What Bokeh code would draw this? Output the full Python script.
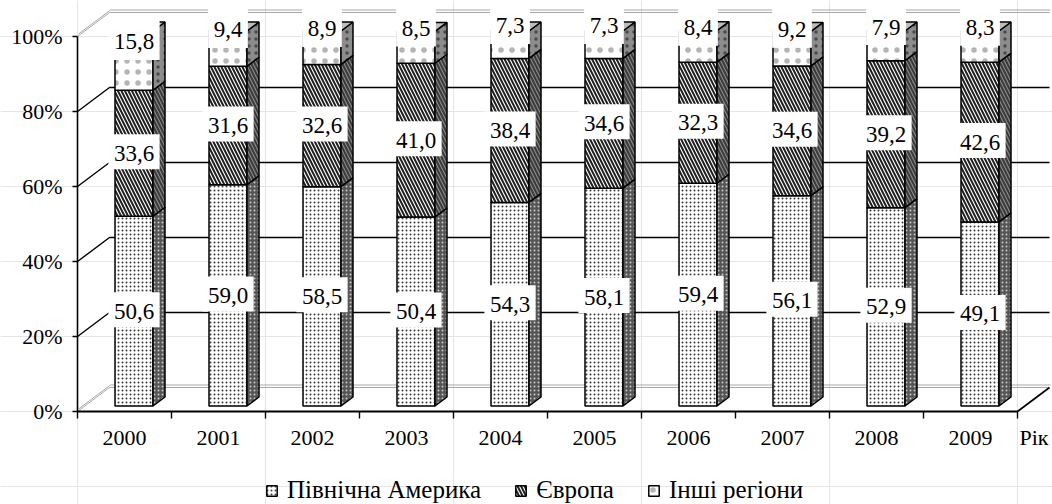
from bokeh.plotting import figure
from bokeh.models import Range1d, Legend, LegendItem, ColumnDataSource
from bokeh.core.properties import value
from bokeh.embed import file_html
from bokeh.resources import INLINE

# ---- data -------------------------------------------------------------
years = ["2000", "2001", "2002", "2003", "2004", "2005", "2006", "2007", "2008", "2009"]
north_america = [50.6, 59.0, 58.5, 50.4, 54.3, 58.1, 59.4, 56.1, 52.9, 49.1]
europe = [33.6, 31.6, 32.6, 41.0, 38.4, 34.6, 32.3, 34.6, 39.2, 42.6]
other_regions = [15.8, 9.4, 8.9, 8.5, 7.3, 7.3, 8.4, 9.2, 7.9, 8.3]
series_names = ["Північна Америка", "Європа", "Інші регіони"]
y_ticks = [0, 20, 40, 60, 80, 100]
y_tick_labels = ["0%", "20%", "40%", "60%", "80%", "100%"]
x_title = "Рік"

# ---- layout / pseudo-3D geometry (screen pixels) -----------------------
W, H = 1052, 504
X0_PX, XSTEP_PX = 77, 94      # left wall and width of one category
Y0_PX, YSTEP_PX = 411, 3.75   # floor line and pixels per percent
FONT = "Liberation Serif"


def px_x(n):
    return n / XSTEP_PX


def px_y(n):
    return n / YSTEP_PX


DX, DY = px_x(32), px_y(24)          # depth of the chart box
BX, BY = px_x(9.5), px_y(5.5)        # bars sit inside the box
HW = px_x(19)                        # half width of a bar
BDX, BDY = px_x(12), px_y(9)         # depth of a bar

n = len(years)

p = figure(width=W, height=H, output_backend="svg", toolbar_location=None,
           x_range=Range1d(-X0_PX / XSTEP_PX, (W - X0_PX) / XSTEP_PX),
           y_range=Range1d(-(H - Y0_PX) / YSTEP_PX, Y0_PX / YSTEP_PX),
           min_border=0, x_axis_location=None, y_axis_location=None)
p.outline_line_color = None
p.background_fill_color = "white"
p.border_fill_color = "white"

# ---- walls and gridlines ----------------------------------------------
for t in y_ticks:
    xs = [0, DX, n + DX]
    ys = [t, t + DY, t + DY]
    if t in (y_ticks[0], y_ticks[-1]):
        p.line(xs, ys, line_color="#a8a8a8", line_width=1)
        p.line([x + px_x(1) for x in xs], [y + px_y(2.5) for y in ys],
               line_color="#a8a8a8", line_width=1)
    else:
        p.line(xs, ys, line_color="black", line_width=1.4)

# right edge of the floor
p.line([n, n + DX], [0, DY], line_color="black", line_width=1.6)

# front axes
p.line([0, 0], [y_ticks[0], y_ticks[-1]], line_color="black", line_width=1.6)
p.line([0, n], [0, 0], line_color="black", line_width=1.8)
p.segment(x0=[0] * len(y_ticks), x1=[-px_x(5)] * len(y_ticks),
          y0=y_ticks, y1=y_ticks, line_color="black", line_width=1.4)
p.segment(x0=list(range(n + 1)), x1=list(range(n + 1)),
          y0=[0] * (n + 1), y1=[-px_y(7)] * (n + 1),
          line_color="black", line_width=1.4)

p.text(x=[-px_x(15)] * len(y_ticks), y=y_ticks, text=y_tick_labels,
       text_font=value(FONT), text_font_size="22px", text_color="black",
       text_align="right", text_baseline="middle")
p.text(x=[i + 0.5 for i in range(n)], y=[-px_y(26)] * n, text=years,
       text_font=value(FONT), text_font_size="22px", text_color="black",
       text_align="center", text_baseline="middle")
p.text(x=[n + px_x(2)], y=[-px_y(26)], text=[x_title],
       text_font=value(FONT), text_font_size="22px", text_color="black",
       text_align="left", text_baseline="middle")

# ---- stacked 3D columns -------------------------------------------------
styles = [
    dict(front=dict(fill_color="white", hatch_pattern="dot", hatch_scale=4,
                    hatch_color="#383838", hatch_weight=1),
         side=dict(fill_color="#555555", hatch_pattern="dot", hatch_scale=4,
                   hatch_color="#c8c8c8", hatch_weight=1)),
    dict(front=dict(fill_color="white", hatch_pattern="left_diagonal_line",
                    hatch_scale=7, hatch_color="#202020", hatch_weight=2),
         side=dict(fill_color="#8a8a8a", hatch_pattern="left_diagonal_line",
                   hatch_scale=7, hatch_color="#3a3a3a", hatch_weight=2)),
    dict(front=dict(fill_color="white", hatch_pattern="dot", hatch_scale=11,
                    hatch_color="#6a6a6a", hatch_weight=1, hatch_alpha=0.5),
         side=dict(fill_color="#8c8c8c", hatch_pattern="dot", hatch_scale=7,
                   hatch_color="#4a4a4a", hatch_weight=1)),
]

series = [north_america, europe, other_regions]
bottoms = [0.0] * n
front_renderers = []
label_x, label_y, label_text, label_w = [], [], [], []
box_y, box_h = [], []

for s_idx, vals in enumerate(series):
    is_top = s_idx == len(series) - 1
    left = [i + 0.5 + BX - HW for i in range(n)]
    right = [i + 0.5 + BX + HW for i in range(n)]
    bot = [b + BY for b in bottoms]
    top = [b + v + BY for b, v in zip(bottoms, vals)]

    src = ColumnDataSource(dict(left=left, right=right, bottom=bot, top=top))
    r = p.quad(left="left", right="right", bottom="bottom", top="top", source=src,
               line_color="black", line_width=1.5, **styles[s_idx]["front"])
    front_renderers.append(r)

    side_xs = [[rr, rr + BDX, rr + BDX, rr] for rr in right]
    side_ys = [[b, b + BDY, t + BDY, t] for b, t in zip(bot, top)]
    p.patches(side_xs, side_ys, line_color="black", line_width=1.5,
              **styles[s_idx]["side"])

    if is_top:
        top_xs = [[l, l + BDX, rr + BDX, rr] for l, rr in zip(left, right)]
        top_ys = [[t, t + BDY, t + BDY, t] for t in top]
        p.patches(top_xs, top_ys, line_color="black", line_width=1.5,
                  fill_color="#bdbdbd")

    for i, v in enumerate(vals):
        txt = f"{v:.1f}".replace(".", ",")
        # labels of the top segment are pulled up towards the chart roof
        cy = (bottoms[i] + 110) / 2 if is_top else bottoms[i] + v / 2
        label_x.append(i + 0.5 + BX)
        label_y.append(cy + BY)
        label_text.append(txt)
        label_w.append(23 * (0.5 * (len(txt) - 1) + 0.25) + 11)
        box_y.append(cy + BY + (px_y(3) if is_top else px_y(1.5)))
        box_h.append(42 if is_top else 35)

    bottoms = [b + v for b, v in zip(bottoms, vals)]

# ---- data labels ----------------------------------------------------------
p.rect(x=label_x, y=box_y, width=label_w, height=box_h,
       width_units="screen", height_units="screen",
       fill_color="white", line_color=None)
p.text(x=label_x, y=label_y, text=label_text, text_font=value(FONT),
       text_font_size="23px", text_color="black",
       text_align="center", text_baseline="middle")

# ---- legend ---------------------------------------------------------------
legend = Legend(
    items=[LegendItem(label=name, renderers=[r]) for name, r in zip(series_names, front_renderers)],
    orientation="horizontal", location=(265, 0),
    glyph_width=13, glyph_height=13, label_standoff=9, spacing=33,
    padding=2, margin=0, border_line_color=None, background_fill_alpha=0,
    label_text_font=FONT, label_text_font_size="25px", label_text_color="black",
)
p.add_layout(legend, "center")

open("out.html", "w").write(file_html(p, INLINE))
